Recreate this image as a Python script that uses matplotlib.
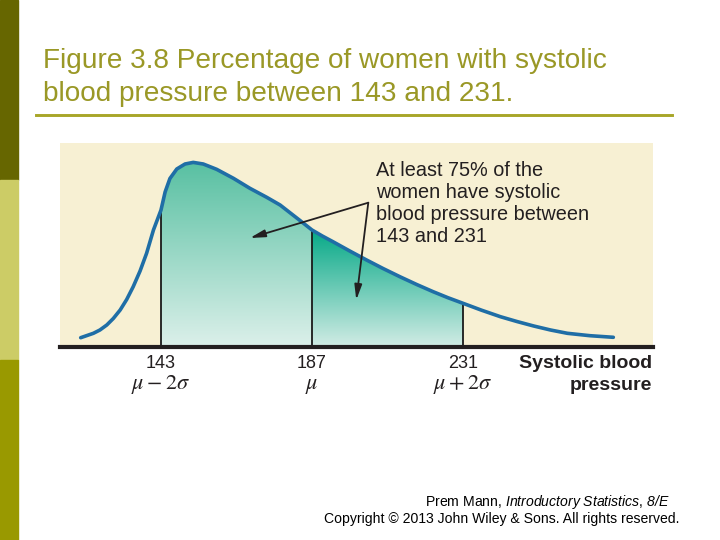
import numpy as np
import matplotlib.pyplot as plt
from matplotlib.colors import LinearSegmentedColormap
from matplotlib.patches import Rectangle
from matplotlib.lines import Line2D

plt.rcParams['font.family'] = ['Liberation Sans', 'DejaVu Sans']
# italic pieces of the footer are drawn through mathtext
plt.rcParams['mathtext.fontset'] = 'custom'
plt.rcParams['mathtext.rm'] = 'Liberation Sans:italic'
plt.rcParams['mathtext.it'] = 'Liberation Sans:italic'

# systolic blood pressure (x) and curve height
bp = [119.6, 123.3, 125.2, 127.2, 129.1, 131.1, 133.0, 134.9, 136.9, 138.8,
      140.8, 143.0, 144.2, 145.6, 147.6, 150.0, 152.4, 155.3, 159.2, 164.1,
      168.9, 173.8, 177.7, 183.5, 187.0, 190.0, 193.1, 198.0, 202.9, 207.7,
      212.6, 217.5, 222.3, 226.6, 231.0, 236.4, 241.9, 246.7, 251.6, 256.5,
      261.4, 268.0, 274.8]
dens = [9.3, 13.7, 17.0, 22.0, 28.5, 37.0, 47.5, 60.3, 76.0, 93.7,
        117.0, 137.0, 155.0, 168.5, 178.0, 183.0, 184.6, 183.0, 177.7, 168.7,
        158.7, 149.7, 142.0, 126.5, 117.0, 111.0, 105.3, 96.0, 87.0, 78.5,
        70.3, 62.5, 55.3, 49.3, 43.7, 36.8, 30.3, 25.5, 21.0, 17.0,
        13.7, 11.3, 9.7]
tick_vals = [143, 187, 231]
tick_syms = [r'$\mu-2\sigma$', r'$\mu$', r'$\mu+2\sigma$']

bp = np.array(bp)
dens = np.array(dens)

fig = plt.figure(figsize=(7.2, 5.4), dpi=100)
fig.patch.set_facecolor('white')

# left side bar
fig.patches.append(Rectangle((0, 360/540), 18/720, 180/540, transform=fig.transFigure,
                             color='#666600', zorder=0))
fig.patches.append(Rectangle((0, 180/540), 18/720, 180/540, transform=fig.transFigure,
                             color='#cccc66', zorder=0))
fig.patches.append(Rectangle((0, 0), 18/720, 180/540, transform=fig.transFigure,
                             color='#999900', zorder=0))

# title + rule
title_col = '#9a9826'
fig.text(43/720, (540-68)/540, 'Figure 3.8 Percentage of women with systolic',
         fontsize=20.2, color=title_col, va='baseline', ha='left')
fig.text(43/720, (540-101)/540, 'blood pressure between 143 and 231.',
         fontsize=20.2, color=title_col, va='baseline', ha='left')
fig.lines.append(Line2D([36/720, 672/720], [(540-114.7)/540]*2, transform=fig.transFigure,
                        color='#a8a628', lw=2.1))

# chart panel
ax = fig.add_axes([60/720, (540-347)/540, 593/720, 204/540])
ax.set_facecolor('#f7f0d3')
for s in ax.spines.values():
    s.set_visible(False)
ax.set_xticks([]); ax.set_yticks([])


def grad_fill(lo, hi, top_col, bot_col):
    m = (bp >= lo) & (bp <= hi)
    xs, ys = bp[m], dens[m]
    poly = ax.fill_between(xs, 0, ys, color='none', lw=0)
    cmap = LinearSegmentedColormap.from_list('g', [bot_col, top_col])
    grad = np.linspace(0, 1, 256).reshape(-1, 1)
    im = ax.imshow(grad, cmap=cmap, origin='lower', aspect='auto',
                   extent=[lo, hi, 0, ys.max()], zorder=1)
    im.set_clip_path(poly.get_paths()[0], transform=ax.transData)


grad_fill(143, 187, '#58c0a2', '#dcf0ea')
grad_fill(187, 231, '#06a987', '#d2ece5')
ax.set_xlim(113.57, 286.36)
ax.set_ylim(0, 204)

ax.plot(bp, dens, color='#1f6ea6', lw=2.6, solid_capstyle='round',
        solid_joinstyle='round', zorder=4)

for v in tick_vals:
    ax.plot([v, v], [0, dens[bp == v][0]], color='#1a1a1a', lw=1.3, zorder=3)

ax.axhline(0, color='#231f20', lw=3, zorder=5, clip_on=False)

# tick labels
for v, s in zip(tick_vals, tick_syms):
    ax.text(v, -17, str(v), ha='center', va='center', fontsize=13,
            color='#231f20', clip_on=False)
    ax.text(v, -38, s, ha='center', va='center', fontsize=16, color='#231f20',
            math_fontfamily='stix', clip_on=False)
ax.text(286.0, -17, 'Systolic blood', ha='right', va='center', fontsize=14,
        fontweight='bold', color='#231f20', clip_on=False)
ax.text(286.0, -39, 'pressure', ha='right', va='center', fontsize=14,
        fontweight='bold', color='#231f20', clip_on=False)

# annotation
ax.text(205.6, 186, 'At least 75% of the\nwomen have systolic\nblood pressure between\n143 and 231',
        ha='left', va='top', fontsize=14.3, color='#231f20', linespacing=1.2, zorder=6)
joint = (203.4, 144.3)
for tip in [(168.9, 109), (199.9, 47)]:
    ax.annotate('', xy=tip, xytext=joint,
                arrowprops=dict(arrowstyle='-|>,head_length=0.9,head_width=0.22',
                                color='#231f20', lw=1.3, shrinkA=0, shrinkB=0),
                zorder=6)

# footer
fig.text(670/720, (540-502)/540,
         r'Prem Mann, $\mathit{Introductory\ Statistics}$, $\mathit{8/E}$',
         ha='right', va='center', fontsize=10.1, color='black')
fig.text(679/720, (540-519)/540,
         'Copyright \u00a9 2013 John Wiley & Sons. All rights reserved.',
         ha='right', va='center', fontsize=10.1, color='black')

plt.savefig('out.png', dpi=100)
